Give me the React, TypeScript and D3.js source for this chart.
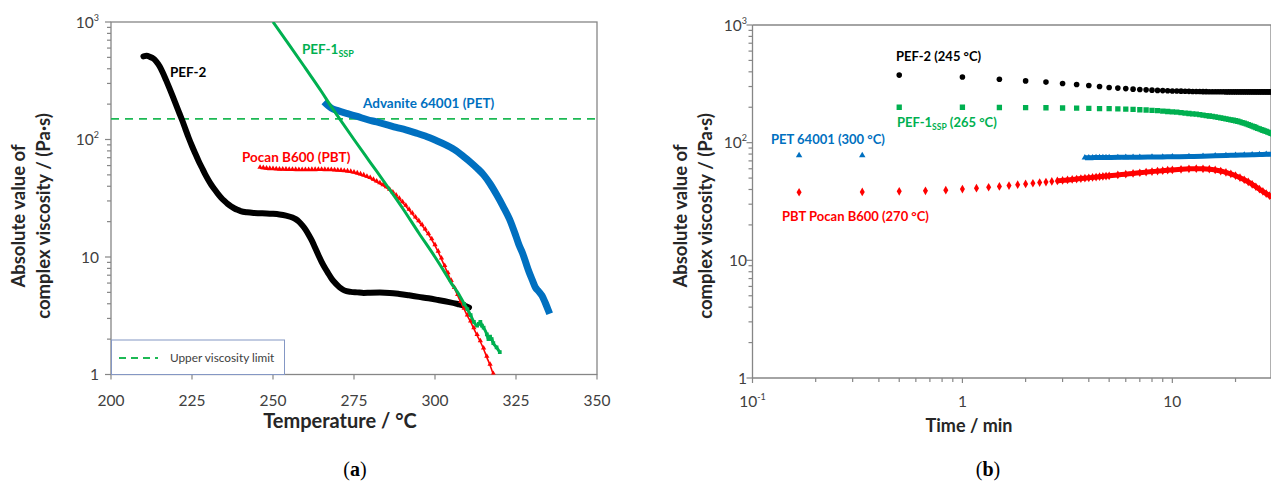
import React from 'react';
import * as d3 from 'd3';

// ---------- Panel (a): viscosity vs temperature ----------
const pef2Temp = [210, 211, 212, 213, 214, 215, 216, 217, 218, 219, 220, 221, 222, 223, 224, 225, 226, 227, 228, 229, 230, 231, 232, 233, 234, 235, 236, 237, 238, 239, 240, 242, 244, 246, 248, 250, 252, 254, 256, 257, 258, 259, 260, 261, 262, 263, 264, 265, 266, 267, 268, 269, 270, 271, 272, 274, 276, 278, 280, 283, 286, 289, 292, 295, 298, 301, 304, 307, 309, 310.5];
const pef2Visc = [510, 515, 505, 490, 460, 420, 370, 320, 275, 235, 200, 170, 145, 122, 103, 88, 76, 66, 58, 51, 45.5, 41, 37.5, 34.5, 32, 30, 28.3, 27, 26, 25.2, 24.6, 24, 23.7, 23.6, 23.5, 23.3, 23, 22.5, 21.7, 21, 20, 18.7, 17.2, 15.5, 13.8, 12, 10.4, 9.1, 8.1, 7.3, 6.6, 6.1, 5.7, 5.4, 5.2, 5.05, 5.0, 4.95, 4.97, 4.98, 4.95, 4.85, 4.72, 4.58, 4.45, 4.3, 4.15, 3.98, 3.85, 3.72];

const pef1Temp = [250, 255, 260, 265, 268, 270, 275, 280, 285, 290, 295, 300, 303, 305, 307, 309, 310, 311, 312, 313, 313.5, 314, 314.5, 315, 316, 316.5, 317, 317.5, 318, 319, 320];
const pef1Visc = [1000, 640, 405, 255, 190, 158, 100, 64, 41, 26, 16, 10, 7.4, 6.0, 5.0, 4.0, 3.6, 3.2, 2.8, 2.6, 2.7, 2.8, 2.6, 2.5, 2.2, 2.0, 2.1, 2.0, 1.85, 1.7, 1.55];

const petTemp = [266.5, 268, 270, 273, 276, 279, 282, 285, 288, 291, 294, 297, 300, 303, 306, 309, 311, 313, 315, 317, 319, 321, 323, 325, 326, 327, 328, 329, 330, 331, 332, 333, 334, 335];
const petVisc = [200, 185, 176, 166, 157, 148, 141, 134, 127, 121, 114, 107, 99, 91, 82, 71, 64, 57, 50, 42, 34, 27, 21, 15, 12.5, 10.8, 9, 7.5, 6.4, 5.5, 5.1, 4.7, 4.1, 3.5];

const pbtTemp = [246, 247, 248, 249, 250, 251, 252, 253, 254, 255, 256, 257, 258, 259, 260, 261, 262, 263, 264, 265, 266, 267, 268, 269, 270, 271, 272, 273, 274, 275, 276, 277, 278, 279, 280, 281, 282, 283, 284, 285, 286, 287, 288, 289, 290, 291, 292, 293, 294, 295, 296, 297, 298, 299, 300, 301, 302, 303, 304, 305, 306, 307, 308, 309, 310, 311, 312, 313, 314, 315, 316, 317, 318];
const pbtVisc = [57, 56.5, 56, 55.7, 55.5, 55.3, 55.1, 55, 54.9, 54.8, 54.7, 54.6, 54.5, 54.5, 54.5, 54.5, 54.6, 54.6, 54.7, 54.7, 54.6, 54.5, 54.4, 54.2, 54, 53.8, 53.5, 53, 52.5, 51.8, 51, 50, 49, 47.8, 46.5, 45, 43.5, 42, 40.5, 38.8, 37, 35, 33, 31, 29, 27, 25, 23.2, 21.5, 20, 18.5, 17, 15.5, 14, 12.5, 11, 9.6, 8.3, 7.2, 6.2, 5.4, 4.7, 4.1, 3.6, 3.15, 2.8, 2.45, 2.15, 1.9, 1.65, 1.4, 1.2, 1.0];

const upperLimit = 150;
const tempTicks = [200, 225, 250, 275, 300, 325, 350];

// ---------- Panel (b): viscosity vs time ----------
const pef2bTime = [0.5, 1, 1.5, 2, 2.5, 3, 3.5, 4, 4.5, 5, 5.5, 6, 6.5, 7, 7.5, 8, 8.5, 9, 9.5, 10, 10.5, 11, 11.5, 12, 12.5, 13, 13.5, 14, 14.5, 15, 15.5, 16, 16.5, 17, 17.5, 18, 18.5, 19, 19.5, 20, 20.5, 21, 21.5, 22, 22.5, 23, 23.5, 24, 24.5, 25, 25.5, 26, 26.5, 27, 27.5, 28, 28.5, 29, 29.5, 30];
const pef2bVisc = [375, 362, 346, 335, 327, 318, 312, 306, 300, 294, 291, 288, 285, 283, 281, 279.5, 278, 277, 276, 275, 274.5, 274, 273.5, 273, 272.5, 272, 272, 271.5, 271.5, 271, 271, 271, 270.5, 270.5, 270.5, 270, 270, 270, 270, 270, 270, 270, 270, 270, 270, 270, 270, 270, 270, 270, 270, 270, 270, 270, 270, 270, 270, 270, 270, 270];

const pef1bTime = pef2bTime;
const pef1bVisc = [200, 200, 199, 198.5, 198, 197, 196.5, 196, 195, 194.5, 193.5, 192.5, 191.5, 190.5, 189.5, 188, 187, 185.5, 184, 183, 181.5, 180, 178.5, 177, 175.5, 174.5, 173, 171.5, 170, 168.5, 167, 165.5, 164, 162.5, 161, 159.5, 158, 156.5, 155, 153.5, 152, 150, 148, 146.5, 144.5, 142.5, 140.5, 138.5, 136.5, 134.5, 132.5, 131, 129, 127.5, 126, 124.5, 123, 121.5, 120, 119];

const petbTime = [0.1667, 0.3333, 3.83, 4, 4.17, 4.33, 4.5, 4.67, 4.83, 5, 5.5, 6, 6.5, 7, 8, 9, 10, 12, 14, 16, 18, 20, 22, 24, 26, 28, 30];
const petbVisc = [78, 78, 74.5, 74.6, 74.6, 74.7, 74.7, 74.8, 74.8, 74.9, 75.0, 75.1, 75.2, 75.3, 75.5, 75.7, 75.9, 76.3, 76.8, 77.3, 77.8, 78.2, 78.6, 79.0, 79.3, 79.6, 79.9];

const pbtbTime = [0.1667, 0.3333, 0.5, 0.6667, 0.8333, 1, 1.1667, 1.3333, 1.5, 1.6667, 1.8333, 2, 2.1667, 2.3333, 2.5, 2.6667, 2.8333, 3, 3.1667, 3.3333, 3.5, 3.6667, 3.8333, 4, 4.1667, 4.3333, 4.5, 4.6667, 4.8333, 5, 5.5, 6, 6.5, 7, 7.5, 8, 8.5, 9, 9.5, 10, 11, 12, 13, 14, 15, 16, 17, 18, 19, 20, 21, 22, 23, 24, 25, 26, 27, 28, 29, 30];
const pbtbVisc = [37.9, 38.1, 38.6, 39.0, 39.5, 40.3, 41.0, 41.8, 42.5, 43.2, 43.9, 44.6, 45.2, 45.8, 46.3, 46.8, 47.3, 47.8, 48.2, 48.7, 49.1, 49.5, 49.9, 50.3, 50.7, 51.0, 51.4, 51.7, 52.0, 52.3, 53.2, 54.0, 54.8, 55.5, 56.2, 56.8, 57.3, 57.8, 58.3, 58.7, 59.4, 59.9, 60.1, 60.0, 59.5, 58.6, 57.4, 55.9, 54.2, 52.4, 50.4, 48.4, 46.4, 44.3, 42.2, 40.2, 38.5, 36.9, 35.5, 34.3];

const viscTickLabels = [
  { v: 1, base: '1', sup: '' },
  { v: 10, base: '10', sup: '' },
  { v: 100, base: '10', sup: '2' },
  { v: 1000, base: '10', sup: '3' },
];
const timeTickLabels = [
  { v: 0.1, base: '10', sup: '-1' },
  { v: 1, base: '1', sup: '' },
  { v: 10, base: '10', sup: '' },
];

const C = {
  black: '#000000',
  green: '#00b050',
  blue: '#0070c0',
  red: '#ff0000',
  axis: '#868686',
  tick: '#404040',
  title: '#262626',
};
const SANS = 'Lato, "Open Sans", "DejaVu Sans", sans-serif';
const SERIF = '"Liberation Serif", "DejaVu Serif", serif';

function zip(a: number[], b: number[]): [number, number][] {
  return a.map((v, i) => [v, b[i]]);
}

export default function App() {
  const W = 1271;
  const H = 484;

  // panel (a) scales
  const xA = d3.scaleLinear().domain([200, 350]).range([111, 597]);
  const yA = d3.scaleLog().domain([1, 1000]).range([374.5, 22]);
  // panel (b) scales
  const xB = d3.scaleLog().domain([0.1, 30]).range([752.5, 1272.5]);
  const yB = d3.scaleLog().domain([1, 1000]).range([378, 25]);

  const lineA = d3
    .line<[number, number]>()
    .x((d) => xA(d[0]))
    .y((d) => yA(d[1]))
    .curve(d3.curveMonotoneX);
  const lineB = d3
    .line<[number, number]>()
    .x((d) => xB(d[0]))
    .y((d) => yB(d[1]))
    .curve(d3.curveMonotoneX);

  const isMajor = (v: number) => Math.abs(Math.log10(v) - Math.round(Math.log10(v))) < 1e-9;

  const triPath = d3.symbol().type(d3.symbolTriangle).size(12)() as string;
  const triPathB = d3.symbol().type(d3.symbolTriangle).size(18)() as string;
  const sqPath = d3.symbol().type(d3.symbolSquare).size(28)() as string;
  const sqPathA = d3.symbol().type(d3.symbolSquare).size(14)() as string;
  const diaPath = d3.symbol().type(d3.symbolDiamond).size(22)() as string;

  const [aL, aR] = xA.range();
  const [aB, aT] = yA.range();
  const [bL, bR] = xB.range();
  const [bB, bT] = yB.range();

  const titleMidY = 216;

  const yAxisTicks = (y: d3.ScaleLogarithmic<number, number>, x0: number) =>
    y.ticks().map((v, i) => (
      <line
        key={'yt' + i}
        x1={x0}
        x2={x0 - (isMajor(v) ? 6 : 4)}
        y1={y(v)}
        y2={y(v)}
        stroke={C.axis}
        strokeWidth={1.2}
      />
    ));

  const yAxisLabels = (y: d3.ScaleLogarithmic<number, number>, xEnd: number) =>
    viscTickLabels.map((t, i) => (
      <text
        key={'yl' + i}
        x={xEnd}
        y={y(t.v) + 5.5}
        textAnchor="end"
        fontFamily={SANS}
        fontSize={15.5}
        fill={C.tick}
      >
        {t.base}
        {t.sup && (
          <tspan fontSize={9} dy={-7}>
            {t.sup}
          </tspan>
        )}
      </text>
    ));

  return (
    <svg
      width={W}
      height={H}
      style={{ position: 'absolute', left: 0, top: 0, background: '#fff' }}
      xmlns="http://www.w3.org/2000/svg"
    >
      <defs>
        <clipPath id="clipA">
          <rect x={aL} y={aT} width={aR - aL} height={aB - aT} />
        </clipPath>
        <clipPath id="clipB">
          <rect x={bL} y={bT - 4} width={bR - bL} height={bB - bT + 4} />
        </clipPath>
      </defs>
      <rect x={0} y={0} width={W} height={H} fill="#fff" />

      {/* ================= Panel (a) ================= */}
      <g>
        <rect x={aL} y={aT} width={aR - aL} height={aB - aT} fill="none" stroke={C.axis} strokeWidth={1.3} />
        {yAxisTicks(yA, aL)}
        {yAxisLabels(yA, 99)}
        {tempTicks.map((t) => (
          <g key={'xt' + t}>
            <line x1={xA(t)} x2={xA(t)} y1={aB} y2={aB + 5} stroke={C.axis} strokeWidth={1.2} />
            <text x={xA(t)} y={aB + 31} textAnchor="middle" fontFamily={SANS} fontSize={15.5} fill={C.tick}>
              {t}
            </text>
          </g>
        ))}

        <g clipPath="url(#clipA)">
          <line x1={aL} x2={aR} y1={yA(upperLimit)} y2={yA(upperLimit)} stroke="#1db954" strokeWidth={1.8} strokeDasharray="8,6" />

          <path d={lineA(zip(pef2Temp, pef2Visc)) as string} fill="none" stroke={C.black} strokeWidth={6} strokeLinecap="round" strokeLinejoin="round" />

          <path d={lineA(zip(pbtTemp, pbtVisc)) as string} fill="none" stroke={C.red} strokeWidth={1.6} />
          {pbtTemp.map((t, i) => (
            <path key={'pbt' + i} d={triPath} transform={`translate(${xA(t)},${yA(pbtVisc[i]) - 1})`} fill={C.red} />
          ))}

          <path d={lineA(zip(petTemp, petVisc)) as string} fill="none" stroke={C.blue} strokeWidth={7} strokeLinecap="square" strokeLinejoin="round" />

          <path d={lineA(zip(pef1Temp, pef1Visc)) as string} fill="none" stroke={C.green} strokeWidth={3} />
          {pef1Temp.map((t, i) =>
            t >= 309 ? (
              <path key={'pef1' + i} d={sqPathA} transform={`translate(${xA(t)},${yA(pef1Visc[i])})`} fill={C.green} />
            ) : null
          )}
        </g>

        <text x={170} y={77} fontFamily={SANS} fontWeight={700} fontSize={13.5} fill={C.black}>PEF-2</text>
        <text x={302} y={54} fontFamily={SANS} fontWeight={700} fontSize={13.5} fill={C.green}>
          PEF-1<tspan fontSize={9} dy={3}>SSP</tspan>
        </text>
        <text x={363} y={108} fontFamily={SANS} fontWeight={700} fontSize={13.5} fill={C.blue}>Advanite 64001 (PET)</text>
        <text x={242} y={162} fontFamily={SANS} fontWeight={700} fontSize={13.5} fill={C.red}>Pocan B600 (PBT)</text>

        {/* legend */}
        <rect x={aL + 0.5} y={340} width={173} height={aB - 340} fill="#fff" stroke="#8497c4" strokeWidth={1} />
        <line x1={119} x2={158} y1={358} y2={358} stroke="#1db954" strokeWidth={2} strokeDasharray="7,5" />
        <text x={170} y={362} fontFamily={SANS} fontSize={11.8} fill={C.tick}>Upper viscosity limit</text>

        {/* axis titles */}
        <text x={340} y={428} textAnchor="middle" fontFamily={SANS} fontWeight={700} fontSize={20} fill={C.title}>
          Temperature / °C
        </text>
        <text transform={`translate(25,${titleMidY}) rotate(-90)`} textAnchor="middle" fontFamily={SANS} fontWeight={700} fontSize={18.5} fill={C.title}>
          Absolute value of
        </text>
        <text transform={`translate(50,${titleMidY}) rotate(-90)`} textAnchor="middle" fontFamily={SANS} fontWeight={700} fontSize={18.5} fill={C.title}>
          complex viscosity / (Pa·s)
        </text>

        <text x={355} y={476} textAnchor="middle" fontFamily={SERIF} fontSize={20} fill="#000">
          (<tspan fontWeight={700}>a</tspan>)
        </text>
      </g>

      {/* ================= Panel (b) ================= */}
      <g>
        <line x1={bL} x2={bR} y1={bT} y2={bT} stroke={C.axis} strokeWidth={1.3} />
        <line x1={bR - 1.5} x2={bR - 1.5} y1={bT} y2={bB} stroke={C.axis} strokeWidth={1.3} />
        <line x1={bL} x2={bL} y1={bT} y2={bB} stroke={C.axis} strokeWidth={1.3} />
        <line x1={bL} x2={bR} y1={bB} y2={bB} stroke={C.axis} strokeWidth={1.3} />
        {yAxisTicks(yB, bL)}
        {yAxisLabels(yB, 747)}
        {xB.ticks().map((v, i) => (
          <line key={'bx' + i} x1={xB(v)} x2={xB(v)} y1={bB} y2={bB + (isMajor(v) ? 5 : 4)} stroke={C.axis} strokeWidth={1.2} />
        ))}
        {timeTickLabels.map((t, i) => (
          <text key={'bxl' + i} x={xB(t.v)} y={bB + 29} textAnchor="middle" fontFamily={SANS} fontSize={15.5} fill={C.tick}>
            {t.base}
            {t.sup && (
              <tspan fontSize={9} dy={-7}>
                {t.sup}
              </tspan>
            )}
          </text>
        ))}

        <g clipPath="url(#clipB)">
          {pef2bTime.map((t, i) => (
            <circle key={'b1' + i} cx={xB(t)} cy={yB(pef2bVisc[i])} r={2.8} fill={C.black} />
          ))}
          {pef1bTime.map((t, i) => (
            <path key={'b2' + i} d={sqPath} transform={`translate(${xB(t)},${yB(pef1bVisc[i])})`} fill={C.green} />
          ))}
          <path d={lineB(zip(petbTime.slice(2), petbVisc.slice(2))) as string} fill="none" stroke={C.blue} strokeWidth={5} />
          {petbTime.map((t, i) => (
            <path key={'b3' + i} d={triPathB} transform={`translate(${xB(t)},${yB(petbVisc[i])})`} fill={C.blue} />
          ))}
          <path d={lineB(zip(pbtbTime.slice(16), pbtbVisc.slice(16))) as string} fill="none" stroke={C.red} strokeWidth={5} />
          {pbtbTime.map((t, i) => (
            <path key={'b4' + i} d={diaPath} transform={`translate(${xB(t)},${yB(pbtbVisc[i])})`} fill={C.red} />
          ))}
        </g>

        <text x={896} y={61} fontFamily={SANS} fontWeight={700} fontSize={13} fill={C.black}>PEF-2 (245 °C)</text>
        <text x={897} y={127} fontFamily={SANS} fontWeight={700} fontSize={13} fill={C.green}>
          PEF-1<tspan fontSize={8.5} dy={3}>SSP</tspan>
          <tspan dy={-3}> (265 °C)</tspan>
        </text>
        <text x={771} y={144} fontFamily={SANS} fontWeight={700} fontSize={13} fill={C.blue}>PET 64001 (300 °C)</text>
        <text x={782} y={221} fontFamily={SANS} fontWeight={700} fontSize={13} fill={C.red}>PBT Pocan B600 (270 °C)</text>

        <text x={969} y={432} textAnchor="middle" fontFamily={SANS} fontWeight={700} fontSize={18} fill={C.title}>
          Time / min
        </text>
        <text transform={`translate(687,${titleMidY}) rotate(-90)`} textAnchor="middle" fontFamily={SANS} fontWeight={700} fontSize={18.5} fill={C.title}>
          Absolute value of
        </text>
        <text transform={`translate(712,${titleMidY}) rotate(-90)`} textAnchor="middle" fontFamily={SANS} fontWeight={700} fontSize={18.5} fill={C.title}>
          complex viscosity / (Pa·s)
        </text>
        <text x={988} y={476} textAnchor="middle" fontFamily={SERIF} fontSize={20} fill="#000">
          (<tspan fontWeight={700}>b</tspan>)
        </text>
      </g>
    </svg>
  );
}
